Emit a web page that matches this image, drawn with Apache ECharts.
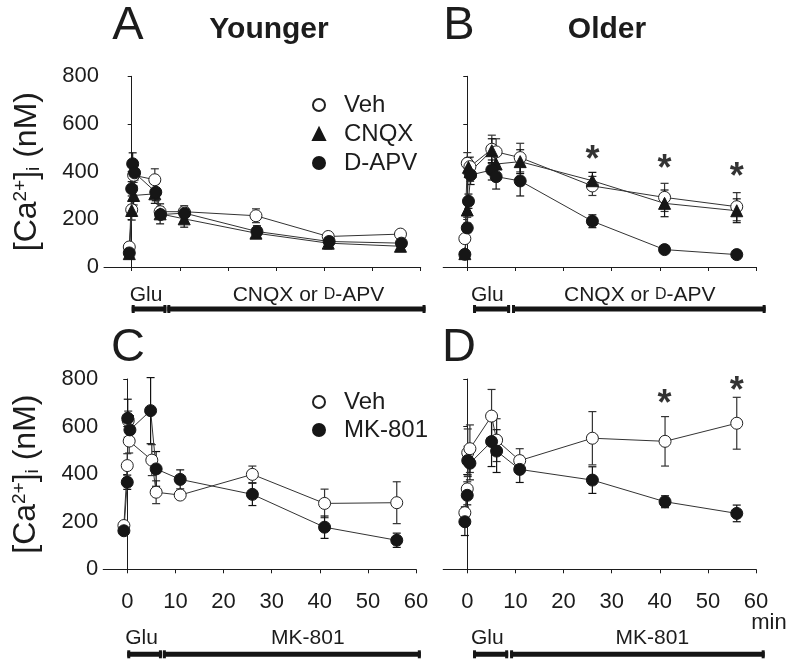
<!DOCTYPE html>
<html><head><meta charset="utf-8">
<script src="https://cdn.jsdelivr.net/npm/echarts@6/dist/echarts.min.js"></script>
<style>html,body{margin:0;padding:0;background:#fff}#c{width:795px;height:670px}</style>
</head><body><div id="c"></div>
<script>
// ---------- DATA (time in min, [Ca2+]i in nM, ± error) ----------
const timeTicks = [0, 10, 20, 30, 40, 50, 60];
const concTicks = [0, 200, 400, 600, 800];

// Panel A - Younger
const youngerVeh   = [[-0.5,84,10],[0,240,20],[0.4,385,30],[4.8,366,46],[5.9,232,20],[10.9,232,25],[25.8,215,29],[40.8,128,15],[55.8,138,10]];
const youngerCNQX  = [[-0.5,56,10],[0,237,40],[0.4,300,40],[4.8,307,40],[5.9,223,42],[10.9,202,35],[25.8,142,15],[40.8,100,24],[55.8,87,12]];
const youngerDAPV  = [[-0.5,59,10],[0,328,30],[0.2,433,46],[0.6,395,30],[5,314,36],[6,220,20],[11,226,15],[26,149,24],[41,107,15],[56,100,12]];

// Panel B - Older
const olderVeh     = [[-0.5,119,15],[0,435,45],[0.55,421,40],[5.1,494,59],[6,483,55],[11,459,60],[26,340,40],[41,292,59],[56,253,59]];
const olderCNQX    = [[-0.5,56,10],[0,239,30],[0.25,418,40],[0.6,400,40],[5.1,488,50],[6,432,50],[11,442,50],[26,362,35],[41,267,56],[56,236,50]];
const olderDAPV    = [[-0.5,53,10],[0,164,20],[0.25,276,30],[0.7,386,40],[5.1,407,42],[6,379,52],[11,361,63],[26,192,27],[41,73,8],[56,52,8]];
const olderStars   = [[26,487],[41,449],[56,414]];

// Panel C - Younger, MK-801
const mkYoungerVeh = [[-0.7,184,12],[0,436,50],[0.2,625,40],[0.4,539,50],[5.1,459,65],[6,324,48],[11,312,18],[26,399,35],[41,277,60],[56,280,88]];
const mkYoungerMK  = [[-0.7,162,15],[0,366,30],[0.1,635,80],[0.55,586,60],[4.85,667,139],[6,422,73],[11,378,40],[26,315,47],[41,177,47],[56,122,30]];

// Panel D - Older, MK-801
const mkOlderVeh   = [[-0.5,238,25],[0,338,30],[0.1,490,100],[0.55,507,100],[5.05,644,112],[6.1,543,90],[10.9,457,50],[26,551,112],[41.1,538,104],[56,614,109]];
const mkOlderMK    = [[-0.5,200,58],[0,311,40],[0.1,457,60],[0.55,446,70],[5.05,537,105],[6.1,497,90],[10.9,420,55],[26,375,56],[41.1,284,25],[56,235,35]];
const mkOlderStars = [[41,733],[56,789]];

// Treatment periods [start, end] in min
const youngerPeriods   = [[0, 7.2], [7.4, 61]];
const olderPeriods     = [[1.2, 8.9], [9.3, 62]];
const mkYoungerPeriods = [[0, 7.2], [7.4, 61]];
const mkOlderPeriods   = [[1.2, 8.5], [8.9, 61.8]];
const topPeriodLabels    = ['Glu', 'CNQX or {sc|D}-APV'];
const bottomPeriodLabels = ['Glu', 'MK-801'];

// ---------- CHART ----------
const FONT = '"Liberation Sans", Arial, Helvetica, sans-serif';
const INK = '#1c1c1c';
const chart = echarts.init(document.getElementById('c'), null, {renderer: 'canvas'});

const grids = [
  {left: 104,   top: 76.3, width: 316.7, height: 190.7},
  {left: 443.2, top: 76.3, width: 312.8, height: 190.7},
  {left: 103.2, top: 379,  width: 312.8, height: 190.3},
  {left: 443.2, top: 379,  width: 312.8, height: 190.3}
];
const xMins = [-5.75, -5, -5, -5];

const yTitle = '[Ca{sup|2+}]{sub|i} (nM)';
const xAxes = grids.map((g, i) => ({
  type: 'value', gridIndex: i, min: xMins[i], max: 60,
  axisLine: {onZero: false, lineStyle: {color: INK, width: 1}},
  axisTick: {show: true, inside: false, length: 4, customValues: timeTicks, lineStyle: {color: INK}},
  axisLabel: {show: i >= 2, customValues: timeTicks, fontSize: 22, fontFamily: FONT, color: INK, margin: 22},
  splitLine: {show: false}
}));
const yAxes = grids.map((g, i) => ({
  type: 'value', gridIndex: i, min: 0, max: 800, interval: 200,
  axisLine: {show: true, lineStyle: {color: INK, width: 1}},
  axisTick: {show: true, inside: false, length: 4, lineStyle: {color: INK}},
  axisLabel: {show: i % 2 === 0, fontSize: 22, fontFamily: FONT, color: INK, margin: 5},
  splitLine: {show: false},
  name: i % 2 === 0 ? yTitle : '',
  nameLocation: 'middle', nameRotate: 90, nameGap: 61,
  nameTextStyle: {
    fontSize: 32, fontFamily: FONT, color: INK,
    rich: {
      sup: {fontSize: 19, fontFamily: FONT, color: INK, verticalAlign: 'top'},
      sub: {fontSize: 19, fontFamily: FONT, color: INK, verticalAlign: 'bottom'}
    }
  }
}));

const styles = {
  open:   {symbol: 'circle',   size: 12, item: {color: '#ffffff', borderColor: '#222', borderWidth: 1}},
  filled: {symbol: 'circle',   size: 12, item: {color: '#161616', borderColor: '#161616', borderWidth: 1}},
  tri:    {symbol: 'triangle', size: 12, item: {color: '#161616', borderColor: '#161616', borderWidth: 1}}
};

const series = [];
function errorSeries(data, gi, color) {
  return {
    type: 'custom', xAxisIndex: gi, yAxisIndex: gi, z: 2, silent: true,
    data: data,
    renderItem: function (params, api) {
      const t = api.value(0), v = api.value(1), e = api.value(2);
      const top = api.coord([t, v + e]), bot = api.coord([t, v - e]);
      const cw = 4;
      const ls = {stroke: color, lineWidth: 1.2};
      return {type: 'group', children: [
        {type: 'line', shape: {x1: top[0], y1: top[1], x2: bot[0], y2: bot[1]}, style: ls},
        {type: 'line', shape: {x1: top[0] - cw, y1: top[1], x2: top[0] + cw, y2: top[1]}, style: ls},
        {type: 'line', shape: {x1: bot[0] - cw, y1: bot[1], x2: bot[0] + cw, y2: bot[1]}, style: ls}
      ]};
    }
  };
}
function addGroup(name, data, gi, st, errColor) {
  series.push(errorSeries(data, gi, errColor));
  series.push({
    type: 'line', name: name, xAxisIndex: gi, yAxisIndex: gi, z: 3,
    data: data.map(d => [d[0], d[1]]),
    symbol: st.symbol, symbolSize: st.size, showAllSymbol: true,
    itemStyle: st.item,
    lineStyle: {color: '#333', width: 1},
    emphasis: {disabled: true}, animation: false
  });
}
function addStars(data, gi) {
  series.push({
    type: 'scatter', xAxisIndex: gi, yAxisIndex: gi, z: 5, silent: true,
    data: data, symbolSize: 0,
    label: {show: true, position: 'inside', formatter: '*', fontSize: 36, fontWeight: 'bold',
      fontFamily: FONT, color: '#000', offset: [0, 10]}
  });
}
function addPeriods(periods, labels, gi, barOff, textOff, dx) {
  series.push({
    type: 'custom', xAxisIndex: gi, yAxisIndex: gi, clip: false, silent: true, z: 4,
    data: periods,
    renderItem: function (params, api) {
      const s = api.value(0), e = api.value(1);
      const p1 = api.coord([s, 0]), p2 = api.coord([e, 0]);
      const y = p1[1] + barOff;
      const i = params.dataIndex;
      const fill = {fill: '#151515'};
      return {type: 'group', children: [
        {type: 'rect', shape: {x: p1[0], y: y - 2.5, width: p2[0] - p1[0], height: 5}, style: fill},
        {type: 'rect', shape: {x: p1[0], y: y - 4, width: 3, height: 8}, style: fill},
        {type: 'rect', shape: {x: p2[0] - 3, y: y - 4, width: 3, height: 8}, style: fill},
        {type: 'text', style: {
          text: labels[i],
          x: i === 0 ? p1[0] - 2 : (p1[0] + p2[0]) / 2 + dx,
          y: y - textOff,
          align: i === 0 ? 'left' : 'center', verticalAlign: 'middle',
          fontSize: 21, fontFamily: FONT, fill: INK,
          rich: {sc: {fontSize: 16, fontFamily: FONT, fill: INK}}
        }}
      ]};
    }
  });
}

addGroup('Veh', youngerVeh, 0, styles.open, '#333');
addGroup('CNQX', youngerCNQX, 0, styles.tri, '#111');
addGroup('D-APV', youngerDAPV, 0, styles.filled, '#111');
addGroup('Veh', olderVeh, 1, styles.open, '#333');
addGroup('CNQX', olderCNQX, 1, styles.tri, '#111');
addGroup('D-APV', olderDAPV, 1, styles.filled, '#111');
addStars(olderStars, 1);
addGroup('Veh', mkYoungerVeh, 2, styles.open, '#333');
addGroup('MK-801', mkYoungerMK, 2, styles.filled, '#111');
addGroup('Veh', mkOlderVeh, 3, styles.open, '#333');
addGroup('MK-801', mkOlderMK, 3, styles.filled, '#111');
addStars(mkOlderStars, 3);

addPeriods(youngerPeriods, topPeriodLabels, 0, 42, 14, 12);
addPeriods(olderPeriods, topPeriodLabels, 1, 42, 14, 1);
addPeriods(mkYoungerPeriods, bottomPeriodLabels, 2, 85, 16, 16);
addPeriods(mkOlderPeriods, bottomPeriodLabels, 3, 85, 16, 15);

const legendBase = {
  orient: 'vertical', padding: 0, itemWidth: 12, itemHeight: 12, itemGap: 5,
  selectedMode: false, symbolKeepAspect: true,
  textStyle: {fontSize: 24, fontFamily: FONT, color: INK, lineHeight: 24, padding: [0, 0, 0, 14]}
};

const txt = (text, x, y, size, weight) => ({
  type: 'text', x: x, y: y,
  style: {text: text, fontSize: size, fontWeight: weight || 'normal', fontFamily: FONT,
    fill: INK, align: 'center', verticalAlign: 'middle'}
});

chart.setOption({
  animation: false,
  backgroundColor: '#fff',
  grid: grids.map(g => Object.assign({containLabel: false}, g)),
  xAxis: xAxes,
  yAxis: yAxes,
  legend: [
    Object.assign({}, legendBase, {left: 312, top: 93,
      data: [{name: 'Veh', icon: 'circle'}, {name: 'CNQX', icon: 'triangle'}, {name: 'D-APV', icon: 'circle'}]}),
    Object.assign({}, legendBase, {left: 312, top: 390, itemGap: 4,
      data: [{name: 'Veh', icon: 'circle'}, {name: 'MK-801', icon: 'circle'}]})
  ],
  series: series,
  graphic: [
    txt('A', 128, 26, 47),
    txt('B', 459, 26, 47),
    txt('C', 128, 348, 47),
    txt('D', 459, 348, 47),
    txt('Younger', 269, 30, 30, 'bold'),
    txt('Older', 607, 30, 30, 'bold'),
    txt('min', 769, 623, 22)
  ]
});
</script></body></html>
